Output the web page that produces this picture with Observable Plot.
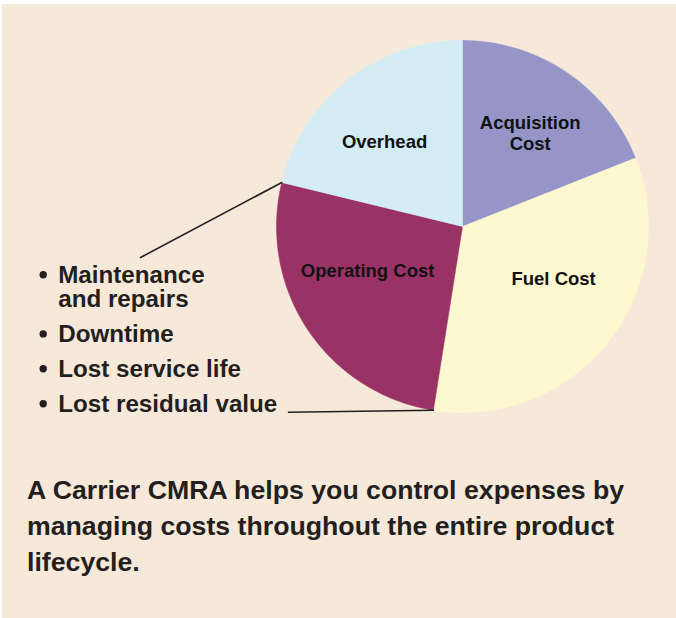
<!DOCTYPE html>
<html><head><meta charset="utf-8">
<script src="https://cdn.jsdelivr.net/npm/d3@7"></script>
<script src="https://cdn.jsdelivr.net/npm/@observablehq/plot@0.6"></script>
<style>
html,body{margin:0;padding:0;background:#fff;}
#panel{position:absolute;left:2px;top:4px;width:674px;height:614px;background:#f6e9da;}
#chart{position:absolute;left:0;top:0;}
#caption{position:absolute;left:27px;top:472px;width:645px;font-family:"Liberation Sans",Arial,Helvetica,sans-serif;font-weight:bold;font-size:26.7px;line-height:36px;color:#231f20;white-space:nowrap;}
</style></head><body>
<div id="panel"></div>
<div id="chart"></div>
<div id="caption"></div>
<script>
// ---- data ----
const categories = ["Acquisition Cost", "Fuel Cost", "Operating Cost", "Overhead"];
const shares = [19, 33.5, 26.3, 21.2];
const sliceLabels = ["Acquisition\nCost", "Fuel Cost", "Operating Cost", "Overhead"];
const colors = ["#9595c8", "#fdf8d0", "#993366", "#d4ecf4"];
const operatingItems = ["Maintenance\nand repairs", "Downtime", "Lost service life", "Lost residual value"];
const captionLines = ["A Carrier CMRA helps you control expenses by", "managing costs throughout the entire product", "lifecycle."];

// ---- layout ----
const W = 676, H = 460;
const cx = 462, cy = 226, R = 186;           // pie centre / radius in px
const ux = px => (px - cx) / R;
const uy = py => (cy - py) / R;
const labelNudge = [[5, 16], [4, -11.5], [-2, -11], [-9, 9]]; // px, per slice label
const listX = 57.7, listDotX = 42.7, listBase0 = 306.5, listStep = 34.9, listFont = 24.2;
const font = '"Liberation Sans", Arial, Helvetica, sans-serif';
const ink = "#231f20";

document.getElementById("caption").innerHTML = captionLines.join("<br>");

// ---- pie geometry via d3.pie ----
const arcs = d3.pie().sort(null).value(d => d)(shares);
const polys = [];
arcs.forEach((a, i) => {
  const n = Math.max(2, Math.ceil((a.endAngle - a.startAngle) / (Math.PI / 360)));
  polys.push({name: categories[i], x: 0, y: 0});
  for (let k = 0; k <= n; k++) {
    const t = a.startAngle + (a.endAngle - a.startAngle) * k / n;
    polys.push({name: categories[i], x: Math.sin(t), y: Math.cos(t)});
  }
  polys.push({name: categories[i], x: 0, y: 0});
});

const labels = arcs.map((a, i) => {
  const m = (a.startAngle + a.endAngle) / 2;
  return {
    text: sliceLabels[i],
    x: 0.6 * Math.sin(m) + labelNudge[i][0] / R,
    y: 0.6 * Math.cos(m) - labelNudge[i][1] / R
  };
});

// bullet list
const items = operatingItems.map((t, i) => {
  const nLines = t.split("\n").length;
  const lastBase = listBase0 + i * listStep;
  const firstBase = lastBase - (nLines - 1) * listFont;
  return {text: t, x: ux(listX), y: uy(lastBase), dx: ux(listDotX), dy: uy(firstBase - 8)};
});

// leader lines from slice boundaries of "Operating Cost"
const op = arcs[2];
const leaders = [
  {g: 0, x: Math.sin(op.endAngle), y: Math.cos(op.endAngle)},
  {g: 0, x: ux(140), y: uy(257)},
  {g: 1, x: Math.sin(op.startAngle), y: Math.cos(op.startAngle)},
  {g: 1, x: ux(288), y: uy(411.7)}
];

const chart = Plot.plot({
  width: W, height: H,
  margin: 0,
  style: {background: "transparent", fontFamily: font},
  x: {domain: [ux(0), ux(W)], axis: null},
  y: {domain: [uy(H), uy(0)], axis: null},
  color: {domain: categories, range: colors},
  marks: [
    Plot.line(polys, {x: "x", y: "y", z: "name", fill: "name", stroke: "name", strokeWidth: 0.5}),
    Plot.line(leaders, {x: "x", y: "y", z: "g", stroke: ink, strokeWidth: 1.6}),
    Plot.text(labels, {x: "x", y: "y", text: "text", fontSize: 18.5, fontWeight: "bold", fontFamily: font,
      fill: "#111", textAnchor: "middle", lineAnchor: "bottom", lineHeight: 1.17}),
    Plot.dot(items, {x: "dx", y: "dy", r: 3.7, fill: ink, stroke: null}),
    Plot.text(items, {x: "x", y: "y", text: "text", fontSize: listFont, fontWeight: "bold", fontFamily: font,
      fill: ink, textAnchor: "start", lineAnchor: "bottom", lineHeight: 1})
  ]
});
document.getElementById("chart").appendChild(chart);
</script>
</body></html>
